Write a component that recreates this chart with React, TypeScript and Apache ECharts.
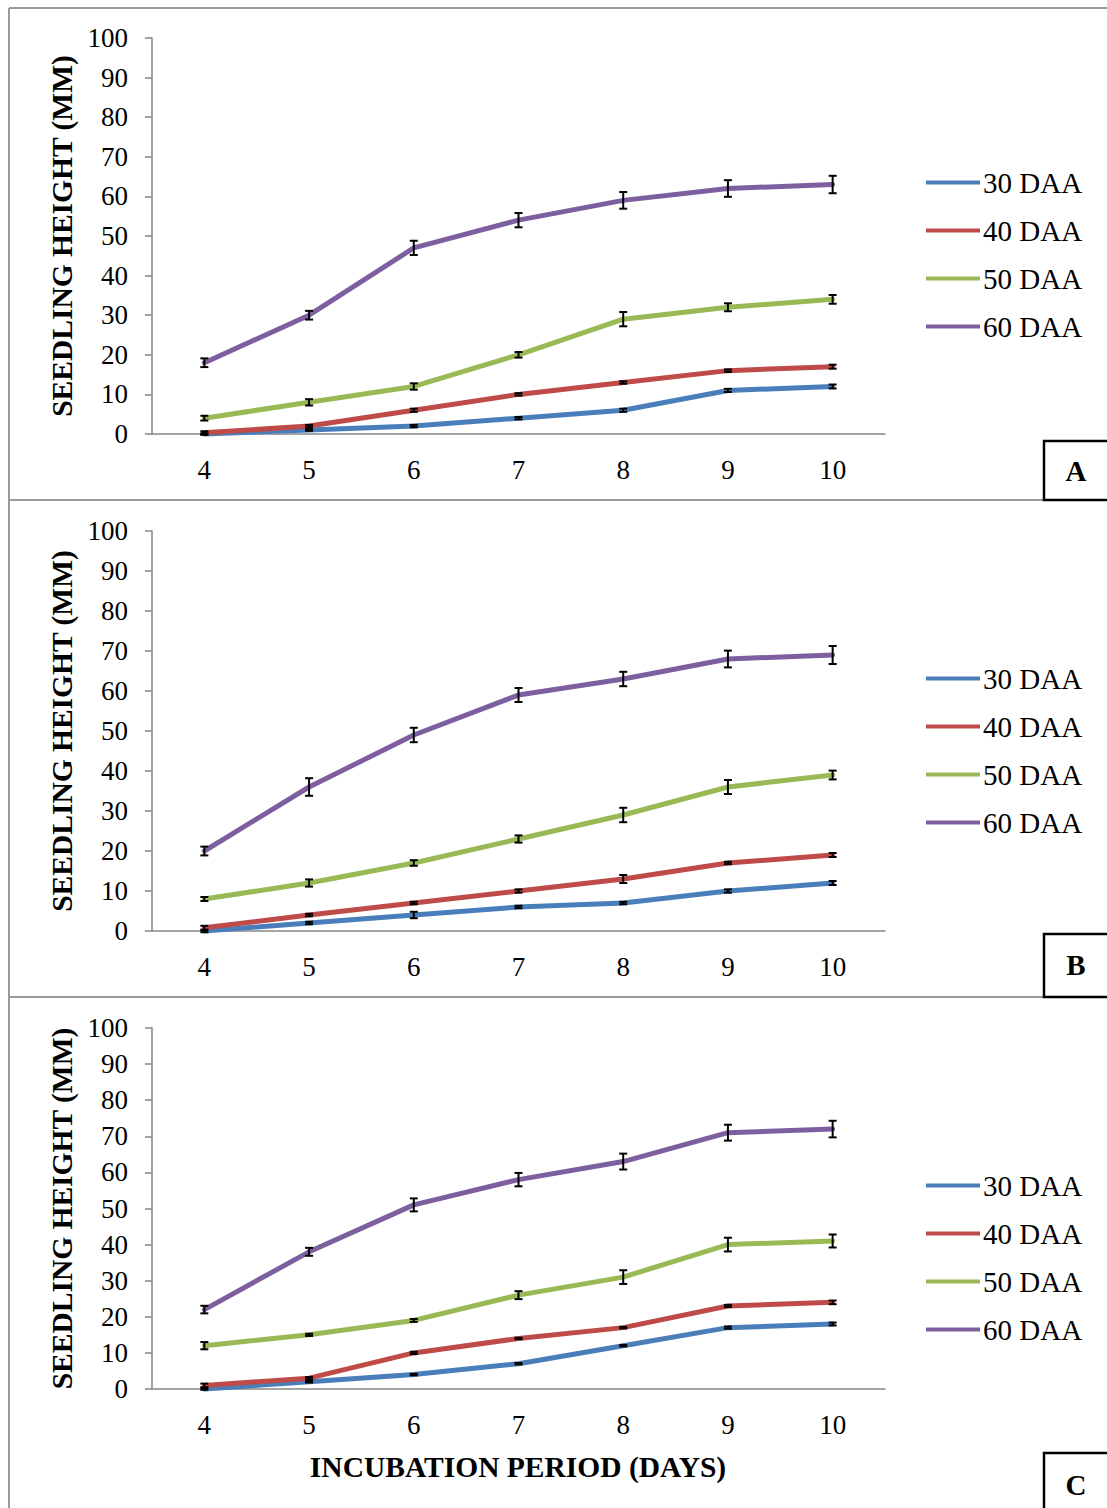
import React, { useEffect, useRef } from "react";
import * as echarts from "echarts";

// Incubation period (days) on the x axis
const days = ["4", "5", "6", "7", "8", "9", "10"];
const seriesNames = ["30 DAA", "40 DAA", "50 DAA", "60 DAA"];
const colors = ["#4A7EBB", "#BE4B48", "#98B954", "#7D5FA0"];
const yTicks = [0, 10, 20, 30, 40, 50, 60, 70, 80, 90, 100];

// Panel A: mean seedling height (mm) and error
const a30 = [0, 1, 2, 4, 6, 11, 12];
const a40 = [0.3, 2, 6, 10, 13, 16, 17];
const a50 = [4, 8, 12, 20, 29, 32, 34];
const a60 = [18, 30, 47, 54, 59, 62, 63];
const eA30 = [0.2, 0.2, 0.3, 0.3, 0.4, 0.4, 0.5];
const eA40 = [0.4, 0.3, 0.4, 0.3, 0.3, 0.3, 0.5];
const eA50 = [0.6, 0.8, 0.8, 0.7, 1.8, 1.0, 1.1];
const eA60 = [1.1, 1.1, 1.8, 1.8, 2.1, 2.1, 2.2];

// Panel B
const b30 = [0, 2, 4, 6, 7, 10, 12];
const b40 = [0.8, 4, 7, 10, 13, 17, 19];
const b50 = [8, 12, 17, 23, 29, 36, 39];
const b60 = [20, 36, 49, 59, 63, 68, 69];
const eB30 = [0.3, 0.3, 0.8, 0.3, 0.3, 0.4, 0.5];
const eB40 = [0.5, 0.3, 0.3, 0.4, 1.0, 0.3, 0.5];
const eB50 = [0.5, 0.9, 0.7, 0.9, 1.8, 1.75, 1.1];
const eB60 = [1.1, 2.2, 1.8, 1.75, 1.8, 2.1, 2.25];

// Panel C
const c30 = [0, 2, 4, 7, 12, 17, 18];
const c40 = [1, 3, 10, 14, 17, 23, 24];
const c50 = [12, 15, 19, 26, 31, 40, 41];
const c60 = [22, 38, 51, 58, 63, 71, 72];
const eC30 = [0.2, 0.2, 0.2, 0.2, 0.2, 0.3, 0.4];
const eC40 = [0.5, 0.3, 0.3, 0.2, 0.2, 0.3, 0.5];
const eC50 = [1.0, 0.3, 0.4, 1.1, 1.9, 1.9, 1.8];
const eC60 = [1.05, 1.1, 1.8, 1.85, 2.2, 2.2, 2.3];

const panelLetters = ["A", "B", "C"];
const yTitle = "SEEDLING HEIGHT (MM)";
const xTitle = "INCUBATION PERIOD (DAYS)";

const FONT = "'Liberation Serif', 'Times New Roman', serif";
const AXIS_GRAY = "#868686";

const panels = [
  { values: [a30, a40, a50, a60], errors: [eA30, eA40, eA50, eA60] },
  { values: [b30, b40, b50, b60], errors: [eB30, eB40, eB50, eB60] },
  { values: [c30, c40, c50, c60], errors: [eC30, eC40, eC50, eC60] },
];

// layout of each panel
const gridBoxes = [
  { top: 38, height: 396 },
  { top: 531, height: 400 },
  { top: 1028, height: 361 },
];
const legendTops = [168, 664, 1171];
const letterBoxes = [
  { y: 441, h: 59, ty: 471 },
  { y: 934, h: 63, ty: 965 },
  { y: 1453, h: 60, ty: 1485 },
];

function errorBars(panel: number, values: number[], errs: number[]) {
  return {
    type: "custom",
    xAxisIndex: panel,
    yAxisIndex: panel,
    z: 10,
    silent: true,
    clip: false,
    data: values.map((v, i) => [i, v, errs[i]]),
    renderItem: (_params: any, api: any) => {
      const x = api.value(0);
      const y = api.value(1);
      const e = api.value(2);
      const top = api.coord([x, y + e]);
      const bot = api.coord([x, y - e]);
      const hw = 4;
      const st = { stroke: "#000", lineWidth: 2 };
      return {
        type: "group",
        children: [
          { type: "line", shape: { x1: top[0], y1: top[1], x2: bot[0], y2: bot[1] }, style: st },
          { type: "line", shape: { x1: top[0] - hw, y1: top[1], x2: top[0] + hw, y2: top[1] }, style: st },
          { type: "line", shape: { x1: bot[0] - hw, y1: bot[1], x2: bot[0] + hw, y2: bot[1] }, style: st },
        ],
      };
    },
  };
}

export default function App() {
  const ref = useRef<HTMLDivElement>(null);

  useEffect(() => {
    document.body.style.margin = "0";
    if (!ref.current) return;
    const chart = echarts.init(ref.current, undefined, { renderer: "svg" });

    const grid = gridBoxes.map((g) => ({ left: 152, width: 733, top: g.top, height: g.height }));

    const xAxis = gridBoxes.map((_, i) => ({
      type: "category",
      gridIndex: i,
      data: days,
      boundaryGap: true,
      axisLine: { lineStyle: { color: AXIS_GRAY, width: 1.5 } },
      axisTick: { inside: false, length: 8, lineStyle: { color: AXIS_GRAY, width: 1.5 } },
      axisLabel: { color: "#000", fontFamily: FONT, fontSize: 27, margin: 22 },
      splitLine: { show: false },
    }));

    const yAxis = gridBoxes.map((_, i) => ({
      type: "value",
      gridIndex: i,
      min: yTicks[0],
      max: yTicks[yTicks.length - 1],
      interval: 10,
      name: yTitle,
      nameLocation: "middle",
      nameRotate: 90,
      nameGap: 75,
      nameTextStyle: { color: "#000", fontFamily: FONT, fontSize: 29.5, fontWeight: "bold" },
      axisLine: { show: true, lineStyle: { color: AXIS_GRAY, width: 1.5 } },
      axisTick: { show: true, inside: false, length: 7, lineStyle: { color: AXIS_GRAY, width: 1.5 } },
      axisLabel: { color: "#000", fontFamily: FONT, fontSize: 27, margin: 24 },
      splitLine: { show: false },
    }));

    const legend = legendTops.map((t) => ({
      orient: "vertical",
      left: 926,
      top: t,
      padding: 0,
      icon: "rect",
      itemWidth: 54,
      itemHeight: 4,
      itemGap: 19,
      selectedMode: false,
      data: seriesNames,
      textStyle: { color: "#000", fontFamily: FONT, fontSize: 29, lineHeight: 29, padding: [0, 0, 0, -2] },
    }));

    const series: any[] = [];
    panels.forEach((p, pi) => {
      p.values.forEach((vals, si) => {
        series.push({
          type: "line",
          name: seriesNames[si],
          xAxisIndex: pi,
          yAxisIndex: pi,
          data: vals,
          showSymbol: false,
          symbol: "none",
          clip: false,
          z: 3 + si,
          color: colors[si],
          lineStyle: { color: colors[si], width: 5, cap: "round", join: "round" },
        });
      });
      p.values.forEach((vals, si) => {
        series.push(errorBars(pi, vals, p.errors[si]));
      });
    });

    const frameStroke = { stroke: "#9a9a9a", lineWidth: 2 };
    const graphic: any[] = [
      { type: "line", shape: { x1: 9, y1: 8, x2: 1107, y2: 8 }, style: frameStroke },
      { type: "line", shape: { x1: 9, y1: 8, x2: 9, y2: 1508 }, style: frameStroke },
      { type: "line", shape: { x1: 9, y1: 500, x2: 1107, y2: 500 }, style: frameStroke },
      { type: "line", shape: { x1: 9, y1: 997, x2: 1107, y2: 997 }, style: frameStroke },
    ];
    letterBoxes.forEach((b, i) => {
      graphic.push({
        type: "rect",
        shape: { x: 1044, y: b.y, width: 80, height: b.h },
        style: { fill: "#fff", stroke: "#000", lineWidth: 2.5 },
        z: 20,
      });
      graphic.push({
        type: "text",
        x: 1076,
        y: b.ty,
        z: 21,
        style: {
          text: panelLetters[i],
          fill: "#000",
          font: `bold 29px ${FONT}`,
          align: "center",
          verticalAlign: "middle",
        },
      });
    });
    graphic.push({
      type: "text",
      x: 518,
      y: 1467,
      style: {
        text: xTitle,
        fill: "#000",
        font: `bold 29.5px ${FONT}`,
        align: "center",
        verticalAlign: "middle",
      },
    });

    chart.setOption({
      animation: false,
      backgroundColor: "#fff",
      grid,
      xAxis,
      yAxis,
      legend,
      series,
      graphic,
    });

    return () => chart.dispose();
  }, []);

  return <div ref={ref} style={{ width: 1107, height: 1508 }} />;
}
